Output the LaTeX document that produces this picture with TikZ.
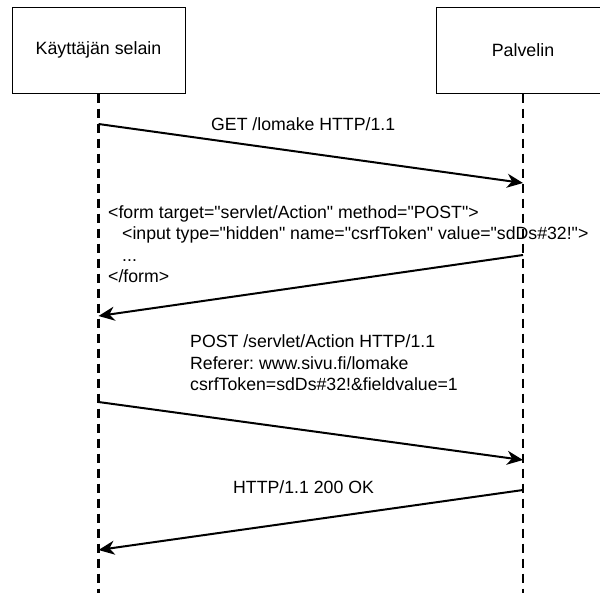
\documentclass[tikz,border=0pt]{standalone}
\usepackage{fontspec}
\setmainfont{Liberation Sans}[Ligatures=TeXOff]
\usetikzlibrary{arrows.meta}
\frenchspacing
\begin{document}
\begin{tikzpicture}[x=1pt,y=-1pt,
  actor/.style={draw, line width=1pt, minimum width=173pt, minimum height=86pt,
    inner sep=0pt, font=\fontsize{17.8}{20}\selectfont},
  lifeline/.style={line width=2.6pt, dash pattern=on 9pt off 6pt},
  msg/.style={line width=2pt, -{Stealth[length=16pt,width=14pt,inset=5pt]}},
  lbl/.style={font=\fontsize{17.7}{21.4}\selectfont, inner sep=0pt, align=left}]
  \useasboundingbox (0,0) rectangle (600,592);
  \clip (0,0) rectangle (600,592);

  % participants
  \node[actor] (client) at (98.5,50) {Käyttäjän selain};
  \node[actor] (server) at (523,50) {Palvelin};

  % lifeline ends
  \coordinate (cend) at (98.5,600);
  \coordinate (send) at (523,600);
  \draw[lifeline] (client.south) -- (cend);
  \draw[lifeline] (server.south) -- (send);

  % message end points on the lifelines
  \coordinate (m1a) at (98.5,124);
  \coordinate (m1b) at (523,183);
  \coordinate (m2a) at (523,255);
  \coordinate (m2b) at (98.5,316);
  \coordinate (m3a) at (98.5,402);
  \coordinate (m3b) at (523,460);
  \coordinate (m4a) at (523,490);
  \coordinate (m4b) at (98.5,550);

  \draw[msg] (m1a) -- (m1b);
  \draw[msg] (m2a) -- (m2b);
  \draw[msg] (m3a) -- (m3b);
  \draw[msg] (m4a) -- (m4b);

  % message labels
  \node[lbl, anchor=west] (l1) at (211,124) {GET /lomake HTTP/1.1};
  \node[lbl, anchor=west] (l2) at (108,244)
    {<form target="servlet/Action" method="POST">\\
     \hspace*{14pt}<input type="hidden" name="csrfToken" value="sdDs\#32!">\\
     \hspace*{14pt}...\\
     </form>};
  \node[lbl, anchor=west] (l3) at (190,363)
    {POST /servlet/Action HTTP/1.1\\
     Referer: www.sivu.fi/lomake\\
     csrfToken=sdDs\#32!\&fieldvalue=1};
  \node[lbl, anchor=west] (l4) at (233,487) {HTTP/1.1 200 OK};
\end{tikzpicture}
\end{document}
